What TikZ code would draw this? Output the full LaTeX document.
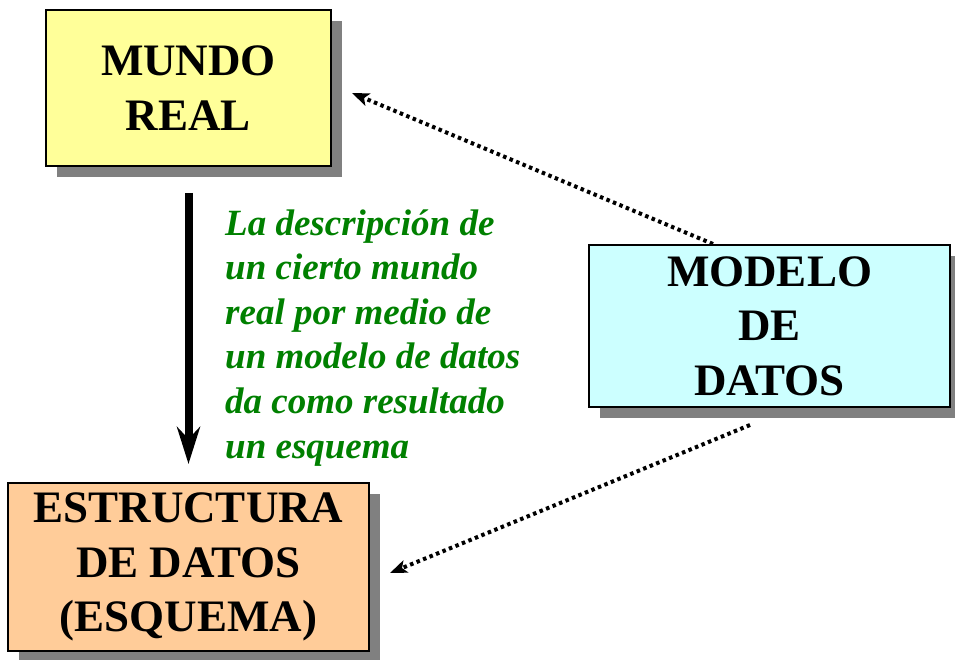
\documentclass[tikz,border=0pt]{standalone}
\usepackage{fontspec}
\setmainfont{Liberation Serif}
\usetikzlibrary{shadows,arrows.meta,calc}
\definecolor{colreal}{RGB}{255,255,153}
\definecolor{colmodel}{RGB}{204,255,255}
\definecolor{colschema}{RGB}{255,204,153}
\definecolor{coldesc}{RGB}{0,128,0}
\colorlet{colshadow}{black!50}

\begin{document}
\begin{tikzpicture}[x=1pt, y=-1pt,
    box/.style={draw=black, line width=2pt, inner sep=0pt, align=center,
      font=\fontsize{45}{54.5}\selectfont\bfseries,
      drop shadow={shadow xshift=11pt, shadow yshift=-11pt, fill=colshadow, opacity=1}},
    flow/.style={line width=8pt, -{Stealth[length=37pt, width=23pt, inset=12pt]}},
    hint/.style={line width=4pt, dash pattern=on 3.5pt off 3.5pt, -{Stealth[length=17pt, width=13pt, inset=4pt]}}]

  \useasboundingbox (0,0) rectangle (955,660);

  % the three boxes
  \node (mundo) [box, fill=colreal, minimum width=285pt, minimum height=156pt] at (188.5,88) {MUNDO\\REAL};
  \node (modelo) [box, fill=colmodel, minimum width=361pt, minimum height=162pt] at (769.5,326) {MODELO\\DE\\DATOS};
  \node (esquema) [box, fill=colschema, minimum width=361pt, minimum height=168pt] at (188.5,567) {ESTRUCTURA\\DE DATOS\\(ESQUEMA)};

  % explanation (base = last line)
  \node (desc) [anchor=base west, align=left, inner sep=0pt, text=coldesc,
    font=\fontsize{37}{44.6}\selectfont\bfseries\itshape] at (225,458)
    {La descripción de\\un cierto mundo\\real por medio de\\un modelo de datos\\da como resultado\\un esquema};

  % connectors
  \draw[flow, shorten <=26pt, shorten >=18pt] (mundo.south) -- (esquema.north);
  \draw[hint] ([xshift=-56.5pt]modelo.north) -- ([xshift=20pt, yshift=-5pt]mundo.east);
  \draw[hint] ([xshift=-19.5pt, yshift=-17pt]modelo.south) -- ([xshift=20pt, yshift=-6pt]esquema.east);
\end{tikzpicture}
\end{document}
